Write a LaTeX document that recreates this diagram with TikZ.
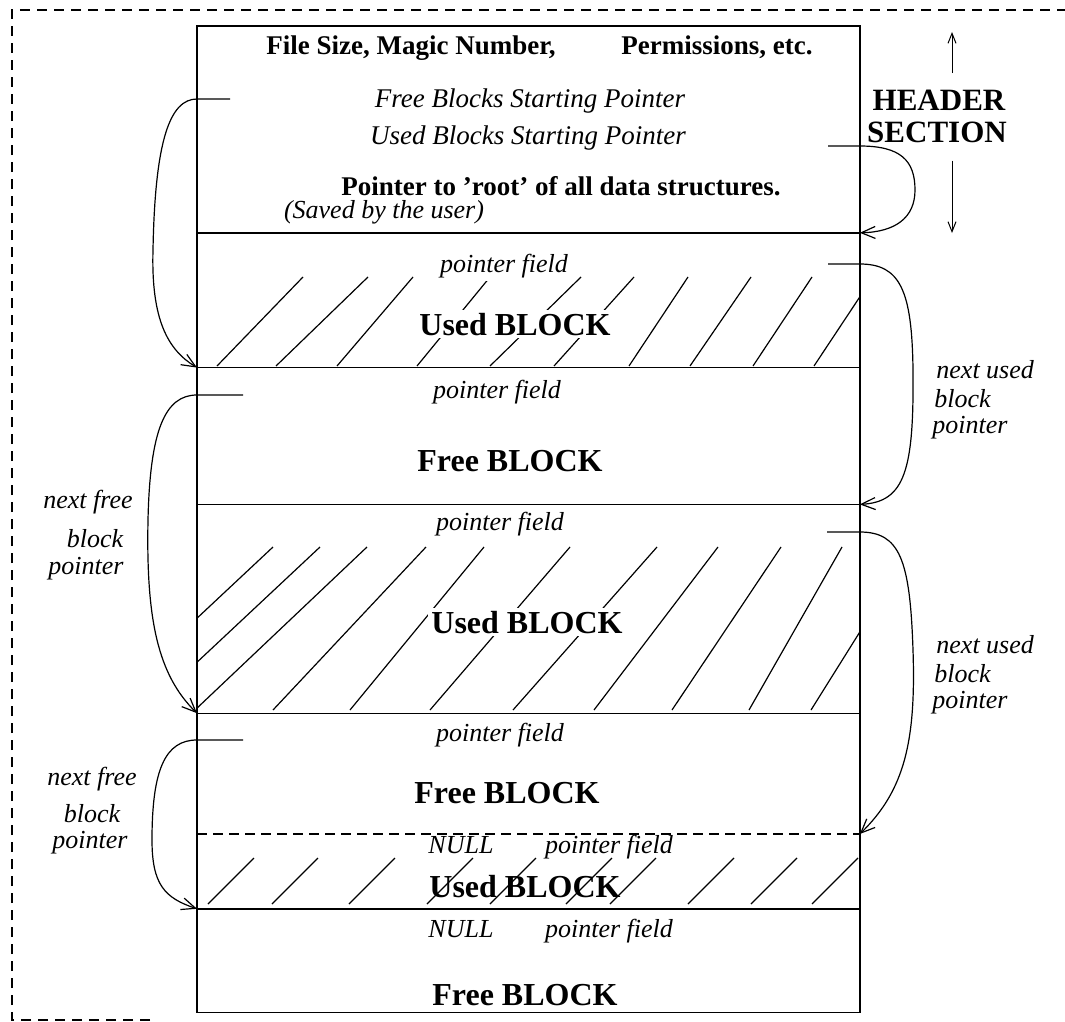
\documentclass[tikz,border=0pt]{standalone}
\usepackage{fontspec}
\setmainfont{Liberation Serif}
\usetikzlibrary{arrows.meta}

\begin{document}
\begin{tikzpicture}[
    x=0.5pt, y=-0.5pt,
    >={Straight Barb[length=7pt,width=6pt]},
    sect/.style={inner sep=0pt, minimum width=331pt, minimum height=#1, anchor=north west},
    hdrtxt/.style={font=\fontsize{13.5}{15}\selectfont\bfseries, inner sep=0pt, anchor=base},
    hdrit/.style={font=\fontsize{13.5}{15}\selectfont\itshape, inner sep=0pt, anchor=base},
    fld/.style={font=\fontsize{13}{15}\selectfont\itshape, inner sep=1.5pt, fill=white, anchor=base},
    blk/.style={font=\fontsize{16}{18}\selectfont\bfseries, inner sep=1.5pt, fill=white, anchor=base},
    note/.style={font=\fontsize{13}{15}\selectfont\itshape, inner sep=0pt, anchor=base},
    bignote/.style={font=\fontsize{15.5}{17}\selectfont\bfseries, inner sep=0pt, anchor=base},
    ptr/.style={->, line width=0.6pt},
    hdrarr/.style={-{Straight Barb[length=5pt,width=4pt]}, line width=0.5pt},
    hatch/.style={line width=0.6pt},
    outer/.style={line width=0.6pt, dash pattern=on 5pt off 3.5pt},
]
\useasboundingbox (0,0) rectangle (1065,1022);

% -- sections of the file --
\node[sect=103pt] (hdr) at (197,26) {};
\node[sect=67pt] (used1) at (hdr.south west) {};
\node[sect=68pt] (free1) at (used1.south west) {};
\node[sect=104pt] (used2) at (free1.south west) {};
\node[sect=60pt] (free2) at (used2.south west) {};
\node[sect=37pt] (used3) at (free2.south west) {};
\node[sect=51.5pt] (free3) at (used3.south west) {};

% -- hatching of the used blocks --
\begin{scope}
  \clip (used1.south west) rectangle (used1.north east);
  \foreach \b/\t in {217/303, 276/368, 337/413, 417/490, 490/581, 554/634,
                     629/688, 690/751, 753/812, 814/873}
    \draw[hatch] (\b,366) -- (\t,277);
\end{scope}
\begin{scope}
  \clip (used2.south west) rectangle (used2.north east);
  \foreach \b/\t in {99/273, 146/320, 195/367, 273/426, 350/484, 430/570,
                     513/657, 594/718, 672/781, 749/842, 811/913}
    \draw[hatch] (\b,710) -- (\t,547);
\end{scope}
\begin{scope}
  \clip (used3.south west) rectangle (used3.north east);
  \foreach \b in {208, 272, 349, 427, 490, 566, 610, 688, 751, 812}
    \draw[hatch] (\b,904) -- (\b+46,858);
\end{scope}

% -- frame and separators --
\draw[line width=0.7pt] (hdr.north west) rectangle (free3.south east);
\foreach \s in {hdr, used1, free1, used2, used3}
  \draw[line width=0.7pt] (\s.south west) -- (\s.south east);
\draw[line width=0.7pt, dash pattern=on 5pt off 3pt] (free2.south west) -- (free2.south east);

% -- outer dashed border --
\draw[outer] (150,1020) -- (12,1020) -- (12,10) -- (1065,10);

% -- header texts --
\node[hdrtxt] (fsz) at (411,55) {File Size, Magic Number,};
\node[hdrtxt] (perm) at (717,55) {Permissions, etc.};
\node[hdrit] (fbsp) at (530,108) {Free Blocks Starting Pointer};
\node[hdrit] (ubsp) at (528,145) {Used Blocks Starting Pointer};
\node[hdrtxt] (root) at (561,195) {Pointer to 'root' of all data structures.};
\node[note] (saved) at (384,218) {(Saved by the user)};

% -- block texts --
\node[fld] (u1fld) at (504,272) {pointer field};
\node[blk] (u1blk) at (515,335) {Used BLOCK};
\node[fld] (f1fld) at (497,398) {pointer field};
\node[blk] (f1blk) at (510,471) {Free BLOCK};
\node[fld] (u2fld) at (500,530) {pointer field};
\node[blk] (u2blk) at (527,633) {Used BLOCK};
\node[fld] (f2fld) at (500,741) {pointer field};
\node[blk] (f2blk) at (507,803) {Free BLOCK};
\node[fld, fill=none] (u3null) at (461,853) {NULL};
\node[fld, fill=none] (u3fld) at (609,853) {pointer field};
\node[blk, fill=none] (u3blk) at (525,897) {Used BLOCK};
\node[fld] (f3null) at (461,937) {NULL};
\node[fld] (f3fld) at (609,937) {pointer field};
\node[blk, fill=none] (f3blk) at (525,1005) {Free BLOCK};

% -- header section label --
\node[bignote] (hs1) at (939,111) {HEADER};
\node[bignote] (hs2) at (937,142) {SECTION};
\coordinate (uptip) at (952,32);
\coordinate (dntip) at (952,233);
\draw[hdrarr] (hs1.north -| uptip) ++(0,-17) -- (uptip);
\draw[hdrarr] (hs2.south -| dntip) ++(0,18) -- (dntip);

% -- side labels --
\node[note] (nf1a) at (88,508) {next free};
\node[note] (nf1b) at (95,547) {block};
\node[note] (nf1c) at (86,574) {pointer};
\node[note] (nf2a) at (92,785) {next free};
\node[note] (nf2b) at (92,822) {block};
\node[note] (nf2c) at (90,848) {pointer};
\node[note, anchor=base west] (nu1a) at (936,378) {next used};
\node[note, anchor=base west] (nu1b) at (934,407) {block};
\node[note, anchor=base west] (nu1c) at (932,433) {pointer};
\node[note, anchor=base west] (nu2a) at (936,653) {next used};
\node[note, anchor=base west] (nu2b) at (934,682) {block};
\node[note, anchor=base west] (nu2c) at (932,708) {pointer};

% -- pointers --
\coordinate (fsp) at (230,99);
\coordinate (usp) at (828,146);
\coordinate (u1p) at (828,264);
\coordinate (f1p) at (243,395);
\coordinate (u2p) at (827,532);
\coordinate (f2p) at (243,740);

\draw[ptr] (fsp) -- (hdr.west |- fsp)
    .. controls (170,99) and (155,140) .. (153,250)
    .. controls (151,320) and (168,350) .. (used1.south west);
\draw[ptr] (usp) -- (hdr.east |- usp)
    .. controls (900,146) and (915,160) .. (915,190)
    .. controls (915,218) and (895,232) .. (hdr.south east);
\draw[ptr] (u1p) -- (hdr.east |- u1p)
    .. controls (900,264) and (912,290) .. (913,370)
    .. controls (914,470) and (905,502) .. (free1.south east);
\draw[ptr] (f1p) -- (hdr.west |- f1p)
    .. controls (165,395) and (150,430) .. (148,520)
    .. controls (146,620) and (158,675) .. (used2.south west);
\draw[ptr] (u2p) -- (hdr.east |- u2p)
    .. controls (900,532) and (910,560) .. (913,650)
    .. controls (916,740) and (905,790) .. (free2.south east);
\draw[ptr] (f2p) -- (hdr.west |- f2p)
    .. controls (165,740) and (152,770) .. (152,840)
    .. controls (152,885) and (165,898) .. (used3.south west);

\end{tikzpicture}
\end{document}
